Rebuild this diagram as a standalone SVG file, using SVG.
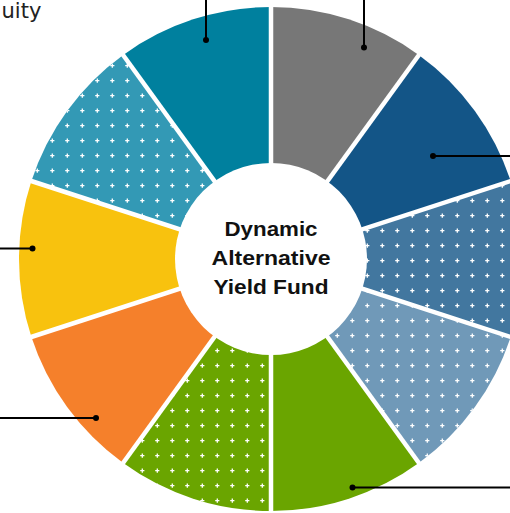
<svg xmlns="http://www.w3.org/2000/svg" width="510" height="513" viewBox="0 0 510 513">
<style>
.lead{stroke:#000;stroke-width:2;fill:none}
.dot{fill:#000}
.div{stroke:#fff;stroke-width:4.5}
.title{font-family:"Liberation Sans",Arial,sans-serif;font-weight:700;font-size:20px;fill:#111;text-anchor:middle}
.lbl{font-family:"DejaVu Sans",sans-serif;font-size:21px;fill:#222}
</style>
<defs>
<pattern id="plus" patternUnits="userSpaceOnUse" x="0" y="0" width="15" height="15">
<path d="M5.2 5.7H9.4M7.3 3.6V7.8" stroke="#fff" stroke-width="1.3" fill="none"/>
</pattern>
</defs>
<rect width="510" height="513" fill="#fff"/>
<g id="seg1"><path d="M271 259L271 7A252 252 0 0 1 419.12 55.13Z" fill="#777777"/></g>
<g id="seg2"><path d="M271 259L419.12 55.13A252 252 0 0 1 510.67 181.13Z" fill="#135587"/></g>
<g id="seg3"><path d="M271 259L510.67 181.13A252 252 0 0 1 510.67 336.87Z" fill="#42779f"/><path d="M271 259L510.67 181.13A252 252 0 0 1 510.67 336.87Z" fill="url(#plus)"/></g>
<g id="seg4"><path d="M271 259L510.67 336.87A252 252 0 0 1 419.12 462.87Z" fill="#7099b8"/><path d="M271 259L510.67 336.87A252 252 0 0 1 419.12 462.87Z" fill="url(#plus)"/></g>
<g id="seg5"><path d="M271 259L419.12 462.87A252 252 0 0 1 271 511Z" fill="#6aa500"/></g>
<g id="seg6"><path d="M271 259L271 511A252 252 0 0 1 122.88 462.87Z" fill="#6aa500"/><path d="M271 259L271 511A252 252 0 0 1 122.88 462.87Z" fill="url(#plus)"/></g>
<g id="seg7"><path d="M271 259L122.88 462.87A252 252 0 0 1 31.33 336.87Z" fill="#f5802b"/></g>
<g id="seg8"><path d="M271 259L31.33 336.87A252 252 0 0 1 31.33 181.13Z" fill="#f8c20e"/></g>
<g id="seg9"><path d="M271 259L31.33 181.13A252 252 0 0 1 122.88 55.13Z" fill="#3399b5"/><path d="M271 259L31.33 181.13A252 252 0 0 1 122.88 55.13Z" fill="url(#plus)"/></g>
<g id="seg10"><path d="M271 259L122.88 55.13A252 252 0 0 1 271 7Z" fill="#00809e"/></g>
<g id="dividers">
<line class="div" x1="271" y1="259" x2="271" y2="0"/>
<line class="div" x1="271" y1="259" x2="424" y2="48"/>
<line class="div" x1="271" y1="259" x2="520" y2="178"/>
<line class="div" x1="271" y1="259" x2="520" y2="340"/>
<line class="div" x1="271" y1="259" x2="424" y2="470"/>
<line class="div" x1="271" y1="259" x2="271" y2="520"/>
<line class="div" x1="271" y1="259" x2="118" y2="470"/>
<line class="div" x1="271" y1="259" x2="22" y2="340"/>
<line class="div" x1="271" y1="259" x2="22" y2="178"/>
<line class="div" x1="271" y1="259" x2="118" y2="48"/>
</g>
<g id="center">
<circle cx="271" cy="259" r="96" fill="#fff"/>
<text class="title" x="271" y="236" textLength="93" lengthAdjust="spacingAndGlyphs">Dynamic</text>
<text class="title" x="271" y="265" textLength="119" lengthAdjust="spacingAndGlyphs">Alternative</text>
<text class="title" x="271" y="294" textLength="115" lengthAdjust="spacingAndGlyphs">Yield Fund</text>
</g>
<g id="connectors">
<line class="lead" x1="206" y1="0" x2="206" y2="40"/><circle class="dot" cx="206" cy="40" r="3"/>
<line class="lead" x1="364" y1="0" x2="364" y2="47.5"/><circle class="dot" cx="364" cy="47.5" r="3"/>
<line class="lead" x1="433" y1="156" x2="510" y2="156"/><circle class="dot" cx="433" cy="156" r="3"/>
<line class="lead" x1="0" y1="248.5" x2="32.5" y2="248.5"/><circle class="dot" cx="32.5" cy="248.5" r="3"/>
<line class="lead" x1="0" y1="418" x2="96" y2="418"/><circle class="dot" cx="96" cy="418" r="3"/>
<line class="lead" x1="352.5" y1="487.5" x2="510" y2="487.5"/><circle class="dot" cx="352.5" cy="487.5" r="3"/>
</g>
<g id="label"><text class="lbl" x="1.5" y="18">uity</text></g>
</svg>
